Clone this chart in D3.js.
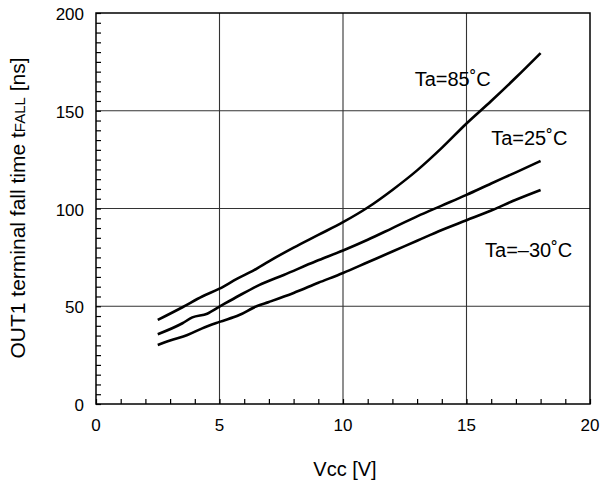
<!DOCTYPE html>
<html>
<head>
<meta charset="utf-8">
<script src="https://cdn.jsdelivr.net/npm/d3@7"></script>
<style>
  body { margin: 0; background: #fff; }
  text { font-family: "Liberation Sans", Arial, sans-serif; fill: #000; }
</style>
</head>
<body>
<div id="chart"></div>
<script>
// values
var ta85 = [[2.5, 43], [3.5, 49.5], [4.3, 55], [5, 59], [5.7, 64], [6.4, 68.5], [7, 73], [8, 80],
  [9, 86.5], [10, 93], [11, 100.5], [12, 109.5], [13, 119.5], [14, 131], [15, 143.5], [16, 155], [17, 167], [18, 179.5]];
var ta25 = [[2.5, 35.7], [3.5, 41.3], [3.9, 44.3], [4.5, 46.2], [5, 49.8], [5.8, 55.5], [6.6, 60.8], [7.6, 66],
  [8.9, 73], [10, 78.5], [11, 84], [12, 90], [13, 96], [14, 101.5], [15, 107], [16, 112.8], [17, 118.5], [18, 124.3]];
var taM30 = [[2.5, 30.2], [3, 32.5], [3.7, 35.3], [4.3, 38.7], [5, 42], [5.8, 45.5], [6.5, 50], [7, 52.2],
  [8, 56.8], [9, 62], [10, 67], [11, 72.5], [12, 78], [13, 83.5], [14, 89], [15, 94], [16, 99], [17, 104.5], [18, 109.5]];

var seriesNames = ['Ta=85˚C', 'Ta=25˚C', 'Ta=–30˚C'];
var labelPos = [[12.9, 162.7], [16, 132.5], [15.75, 75.2]]; // label anchors in data units (x, y)

var xTicks = [0, 5, 10, 15, 20];
var yTicks = [0, 50, 100, 150, 200];

var width = 601, height = 483;
var margin = { top: 13, right: 11, bottom: 79, left: 96 };
var plotW = width - margin.left - margin.right;
var plotH = height - margin.top - margin.bottom;

var x = d3.scaleLinear().domain([0, 20]).range([0, plotW]);
var y = d3.scaleLinear().domain([0, 200]).range([plotH, 0]);

var svg = d3.select('#chart').append('svg')
  .attr('width', width).attr('height', height);
var g = svg.append('g')
  .attr('transform', 'translate(' + margin.left + ',' + margin.top + ')');

// grid
g.append('g').selectAll('line')
  .data(xTicks.slice(1, -1)).enter().append('line')
  .attr('x1', d => x(d)).attr('x2', d => x(d))
  .attr('y1', 0).attr('y2', plotH)
  .attr('stroke', '#333').attr('stroke-width', 1.1);
g.append('g').selectAll('line')
  .data(yTicks.slice(1, -1)).enter().append('line')
  .attr('y1', d => y(d)).attr('y2', d => y(d))
  .attr('x1', 0).attr('x2', plotW)
  .attr('stroke', '#333').attr('stroke-width', 1.1);

// minor ticks, pointing inward
var xAxis = d3.axisTop(x).tickValues(d3.range(0, 21, 1)).tickSize(5).tickFormat('');
var yAxis = d3.axisRight(y).tickValues(d3.range(0, 201, 5)).tickSize(5).tickFormat('');
g.append('g').attr('transform', 'translate(0,' + plotH + ')').call(xAxis)
  .call(s => s.select('.domain').remove())
  .selectAll('line').attr('stroke', '#000').attr('stroke-width', 1.2);
g.append('g').call(yAxis)
  .call(s => s.select('.domain').remove())
  .selectAll('line').attr('stroke', '#000').attr('stroke-width', 1.2);

// frame
g.append('rect')
  .attr('width', plotW).attr('height', plotH)
  .attr('fill', 'none').attr('stroke', '#000').attr('stroke-width', 1.5);

// tick labels
g.append('g').selectAll('text')
  .data(xTicks).enter().append('text')
  .attr('x', d => x(d)).attr('y', plotH + 27)
  .attr('text-anchor', 'middle').attr('font-size', 17)
  .text(d => d);
g.append('g').selectAll('text')
  .data(yTicks).enter().append('text')
  .attr('x', -12).attr('y', d => y(d) + 7)
  .attr('text-anchor', 'end').attr('font-size', 17)
  .text(d => d);

// axis titles
svg.append('text')
  .attr('x', 345).attr('y', 476)
  .attr('text-anchor', 'middle').attr('font-size', 20)
  .text('Vcc [V]');
var yt = svg.append('text')
  .attr('transform', 'translate(25,208) rotate(-90)')
  .attr('text-anchor', 'middle').attr('font-size', 21);
yt.append('tspan').text('OUT1 terminal fall time t');
yt.append('tspan').attr('font-size', 15).text('FALL');
yt.append('tspan').text(' [ns]');

// curves
var line = d3.line().x(d => x(d[0])).y(d => y(d[1])).curve(d3.curveMonotoneX);
g.append('g').selectAll('path')
  .data([ta85, ta25, taM30]).enter().append('path')
  .attr('d', line)
  .attr('fill', 'none').attr('stroke', '#000').attr('stroke-width', 2.6)
  .attr('stroke-linejoin', 'round');

// labels
g.append('g').selectAll('text')
  .data(seriesNames).enter().append('text')
  .attr('x', (d, i) => x(labelPos[i][0]))
  .attr('y', (d, i) => y(labelPos[i][1]))
  .attr('font-size', 20)
  .text(d => d);
</script>
</body>
</html>
